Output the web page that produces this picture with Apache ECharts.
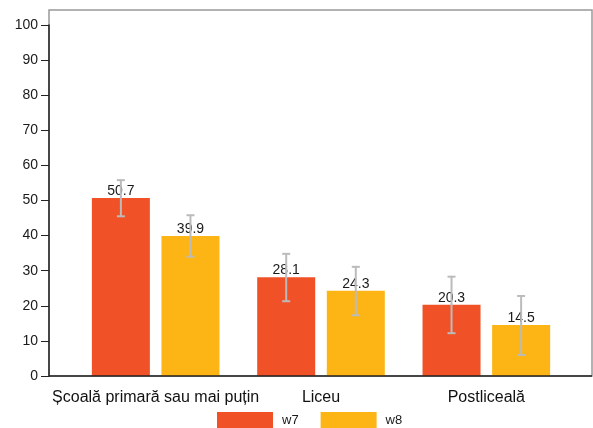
<!DOCTYPE html>
<html lang="ro" style="height: 100%">
<head>
  <meta charset="utf-8">
</head>
<body style="height: 100%; margin: 0">
  <div id="container" style="width: 593px; height: 428px"></div>

  <script type="text/javascript" src="https://cdn.jsdelivr.net/npm/echarts@6/dist/echarts.min.js"></script>

  <script type="text/javascript">
    var categories = ['Școală primară sau mai puțin', 'Liceu', 'Postliceală'];
    var w7 = [50.7, 28.1, 20.3];
    var w8 = [39.9, 24.3, 14.5];
    // intervale de incredere (jos, sus)
    var w7Low = [45.5, 21.3, 12.2];
    var w7High = [55.8, 34.8, 28.3];
    var w8Low = [34.0, 17.3, 6.0];
    var w8High = [45.8, 31.1, 22.8];
    var yTicks = [0, 10, 20, 30, 40, 50, 60, 70, 80, 90, 100];

    var RED = '#F05127';
    var YELLOW = '#FDB515';
    var FONT = 'Liberation Sans';
    var BAR_W = 58;
    var SHIFT = 34.8;

    var dom = document.getElementById('container');
    var myChart = echarts.init(dom, null, { renderer: 'canvas' });

    function errData(low, high) {
      return low.map(function (v, i) { return [i, v, high[i]]; });
    }

    function errRender(shift) {
      return function (params, api) {
        var lo = api.coord([api.value(0), api.value(1)]);
        var hi = api.coord([api.value(0), api.value(2)]);
        var x = lo[0] + shift;
        var cap = 4;
        var st = { stroke: '#bbbbbb', lineWidth: 2 };
        return {
          type: 'group',
          children: [
            { type: 'line', shape: { x1: x, y1: hi[1], x2: x, y2: lo[1] }, style: st },
            { type: 'line', shape: { x1: x - cap, y1: hi[1], x2: x + cap, y2: hi[1] }, style: st },
            { type: 'line', shape: { x1: x - cap, y1: lo[1], x2: x + cap, y2: lo[1] }, style: st }
          ]
        };
      };
    }

    var labelStyle = {
      show: true,
      position: 'top',
      distance: 0,
      color: '#1a1a1a',
      fontSize: 14,
      fontFamily: FONT
    };

    var option = {
      animation: false,
      textStyle: { fontFamily: FONT },
      grid: { left: 73, right: 24, top: 25, bottom: 52 },
      graphic: [
        {
          type: 'rect',
          shape: { x: 49, y: 10, width: 543, height: 366 },
          style: { fill: 'none', stroke: '#999', lineWidth: 1.5 },
          silent: true
        },
        {
          type: 'line',
          shape: { x1: 49, y1: 376, x2: 592, y2: 376 },
          style: { stroke: '#222', lineWidth: 1.5 },
          z: 10,
          silent: true
        }
      ],
      legend: {
        data: ['w7', 'w8'],
        left: 212,
        top: 407,
        icon: 'rect',
        itemWidth: 56,
        itemHeight: 16,
        itemGap: 22,
        textStyle: { color: '#1a1a1a', fontSize: 13, fontFamily: FONT, padding: [0, 0, 0, 4] }
      },
      xAxis: {
        type: 'category',
        data: categories,
        axisLine: { show: false },
        axisTick: { show: false },
        axisLabel: { color: '#111', fontSize: 16, fontFamily: FONT, margin: 14, interval: 0 }
      },
      yAxis: {
        type: 'value',
        min: 0,
        max: 100,
        interval: 10,
        offset: 24,
        axisLine: { show: true, lineStyle: { color: '#222', width: 1.5 } },
        axisTick: { show: true, length: 8, lineStyle: { color: '#222' } },
        axisLabel: {
          color: '#1a1a1a',
          fontSize: 14,
          fontFamily: FONT,
          margin: 11,
          formatter: function (v) { return yTicks.indexOf(v) >= 0 ? String(v) : ''; }
        },
        splitLine: { show: false }
      },
      series: [
        {
          name: 'w7',
          type: 'bar',
          data: w7,
          barWidth: BAR_W,
          barGap: '20%',
          itemStyle: { color: RED },
          label: labelStyle
        },
        {
          name: 'w8',
          type: 'bar',
          data: w8,
          barWidth: BAR_W,
          barGap: '20%',
          itemStyle: { color: YELLOW },
          label: labelStyle
        },
        {
          name: 'err7',
          type: 'custom',
          renderItem: errRender(-SHIFT),
          data: errData(w7Low, w7High),
          encode: { x: 0, y: [1, 2] },
          z: 5
        },
        {
          name: 'err8',
          type: 'custom',
          renderItem: errRender(SHIFT),
          data: errData(w8Low, w8High),
          encode: { x: 0, y: [1, 2] },
          z: 5
        }
      ]
    };

    myChart.setOption(option);
    window.addEventListener('resize', myChart.resize);
  </script>
</body>
</html>
